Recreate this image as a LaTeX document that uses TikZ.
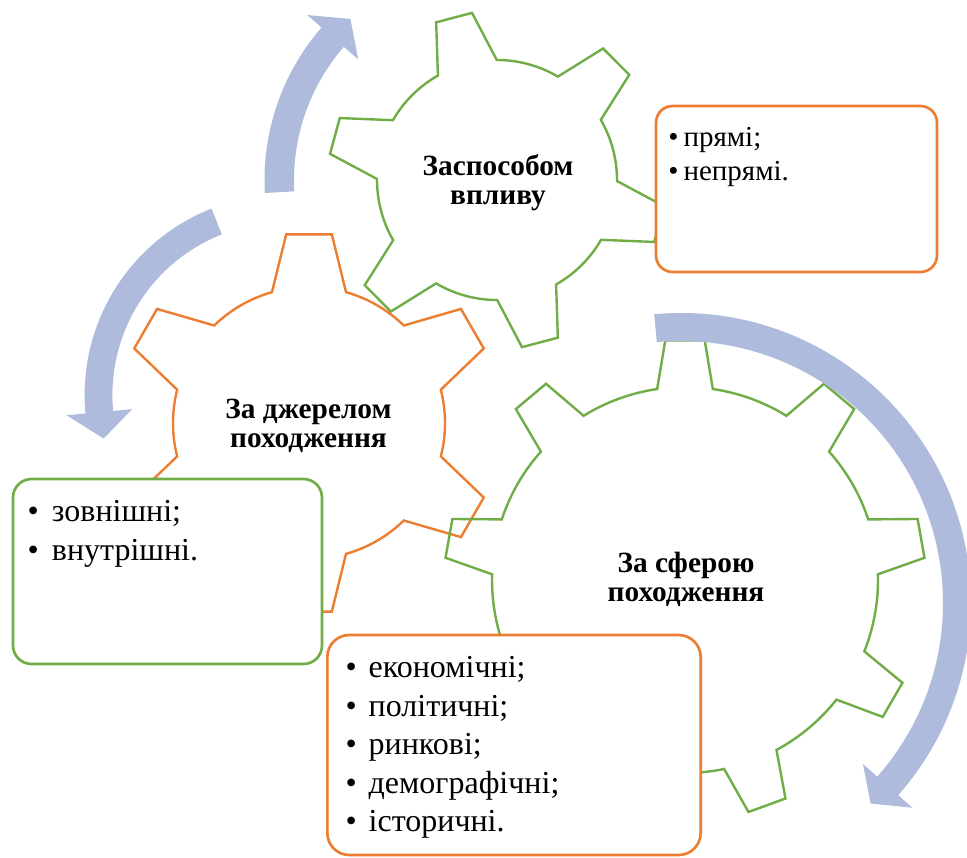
\documentclass[tikz,border=0pt]{standalone}
\usepackage{fontspec}
\setmainfont{Liberation Serif}
\usepackage{xcolor}
\definecolor{geargreen} {RGB}{112,173,71}
\definecolor{gearorange}{RGB}{237,125,49}
\definecolor{cycleblue} {RGB}{175,187,221}
\tikzset{
  gearline/.style ={draw=#1, line width=1.8pt, line join=miter},
  bluearc/.style  ={fill=cycleblue, draw=none},
  listbox/.style  ={draw=#1, fill=white, line width=2pt},
  gearlabel/.style={font=\fontsize{22}{21.75}\selectfont\bfseries,
                    align=center, inner sep=0pt, anchor=base},
  listtext/.style ={align=left, inner sep=0pt, anchor=base west,
                    font=\fontsize{24}{28.9}\selectfont},
}
% centre, teeth, first tooth angle, root r, tip r, root half angle, tip half angle, colour
\newcommand{\gearshape}[8]{%
  \begin{scope}[shift={#1}, yscale=-1]
    \pgfmathtruncatemacro{\gearlast}{#2-1}
    \draw[gearline=#8] (#3-#6:#4)
      \foreach \k [evaluate=\k as \a using #3+\k*360/#2] in {0,...,\gearlast}{
        -- (\a-#7:#5) -- (\a+#7:#5) -- (\a+#6:#4)
        arc[start angle=\a+#6, end angle=\a+360/#2-#6, radius=#4]
      } -- cycle;
  \end{scope}}
% centre, inner r, outer r, tail angle, neck angle, tip angle
\newcommand{\cyclearrow}[6]{%
  \begin{scope}[shift={#1}, yscale=-1]
    \fill[bluearc] (#4:#3) arc[start angle=#4, end angle=#5, radius=#3]
      -- (#5:{#3+19}) -- (#6:{(#2+#3)/2}) -- (#5:{#2-19}) -- (#5:#2)
      arc[start angle=#5, end angle=#4, radius=#2] -- cycle;
  \end{scope}}
\newcommand{\bul}[1]{\makebox[#1][l]{\textbullet}}

\begin{document}
\begin{tikzpicture}[x=0.75pt, y=-0.75pt]
  \useasboundingbox (0,0) rectangle (967,857);

  \gearshape{(497,180)}{6}{104.8}{120}{169}{14.7}{6.3}{geargreen}
  \gearshape{(309,423)}{6}{90}{136}{190}{15.8}{6.9}{gearorange}
  \gearshape{(685,580)}{9}{90}{193}{240.5}{8.3}{4.7}{geargreen}

  \cyclearrow{(497,180)}{203}{232.5}{183.2}{139}{132.3}
  \cyclearrow{(285,395)}{172.6}{200.4}{111.5}{185.3}{193.5}
  \cyclearrow{(681,603)}{262}{290}{95.3}{-41.5}{-46.6}

  % base = baseline of the last line
  \node[gearlabel] (way)    at (498,204)     {Заспособом\\впливу};
  \node[gearlabel] (source) at (308.5,447.3) {За джерелом\\походження};
  \node[gearlabel] (sphere) at (686,601.2)   {За сферою\\походження};

  \node[listbox=gearorange, minimum width=210.75pt, minimum height=124.5pt,
        rounded corners=12.45pt] (waybox) at (796.5,189) {};
  \node[listbox=geargreen, minimum width=231.75pt, minimum height=138.75pt,
        rounded corners=13.9pt] (sourcebox) at (167.5,571.5) {};
  \node[listbox=gearorange, minimum width=280pt, minimum height=165pt,
        rounded corners=16.5pt] (spherebox) at (514,745) {};

  \node[listtext, font=\fontsize{21.75}{25.5}\selectfont] (waylist) at (668.2,180)
        {\bul{0.52em}прямі;\\\bul{0.52em}непрямі.};
  \node[listtext] (sourcelist) at (27.4,560)
        {\bul{0.76em}зовнішні;\\\bul{0.76em}внутрішні.};
  \node[listtext] (spherelist) at (345.4,831.7)
        {\bul{0.72em}економічні;\\\bul{0.72em}політичні;\\\bul{0.72em}ринкові;\\
         \bul{0.72em}демографічні;\\\bul{0.72em}історичні.};
\end{tikzpicture}
\end{document}
